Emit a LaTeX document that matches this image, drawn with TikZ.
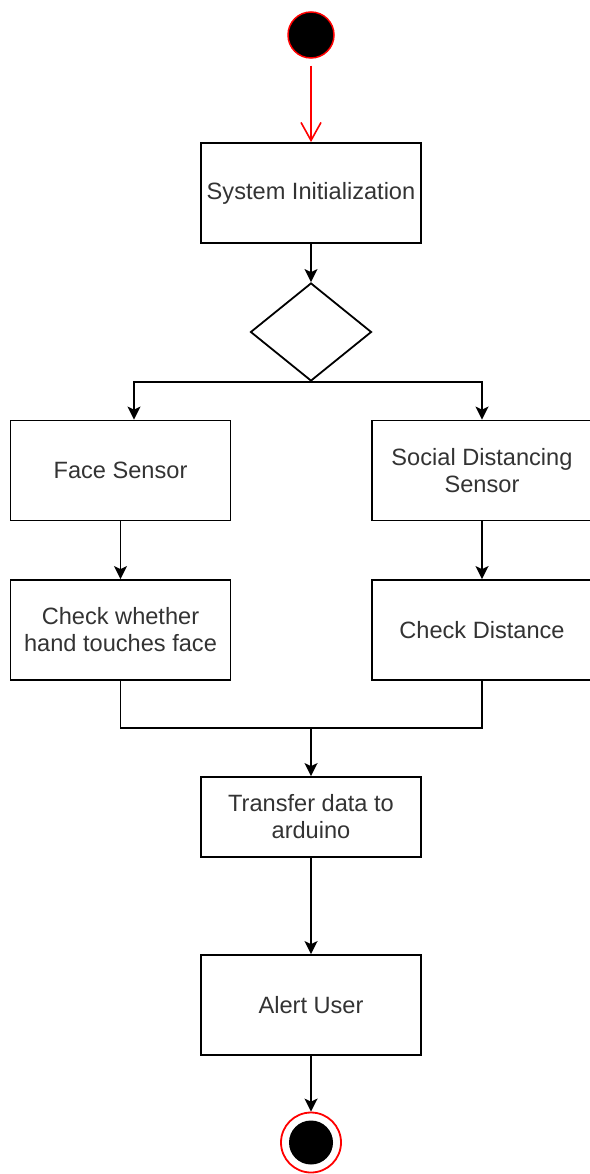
\documentclass[tikz,border=0pt]{standalone}
\usepackage{fontspec}
\setmainfont{Liberation Sans}
\usetikzlibrary{arrows.meta,shapes.geometric}
\begin{document}
\begin{tikzpicture}[x=1pt,y=-1pt,
  box/.style={draw=black, line width=1.8pt, rectangle, minimum width=220pt, minimum height=100pt,
    inner sep=0pt, align=center, font=\fontsize{23.6}{27}\selectfont, text=black!80},
  flow/.style={draw=black, line width=1.8pt, -{Stealth[length=13pt,width=13pt,inset=3pt]}},
  plain/.style={draw=black, line width=1.8pt}]
\useasboundingbox (0,0) rectangle (589,1174);
\node[circle, fill=black, draw=red, line width=1.5pt, minimum size=46pt, inner sep=0pt] (start) at (311,35) {};
\node[box] (init) at (311,193) {System Initialization};
\node[diamond, draw=black, line width=1.8pt, minimum width=121pt, minimum height=98pt, inner sep=0pt] (dec) at (311,332) {};
\node[box] (face) at (120.5,470.5) {Face Sensor};
\node[box] (social) at (482,470.5) {Social Distancing\\Sensor};
\node[box] (hand) at (120.5,630) {Check whether\\hand touches face};
\node[box] (dist) at (482,630) {Check Distance};
\node[box, minimum height=80pt] (transfer) at (311,817) {Transfer data to\\arduino};
\node[box] (alert) at (311,1005) {Alert User};
\node[circle, draw=red, line width=1.8pt, minimum size=60pt, inner sep=0pt] (end) at (311,1142.5) {};
\node[circle, fill=black, minimum size=44pt, inner sep=0pt] (endin) at (end) {};
\coordinate (join) at (311,728);

\draw[red, line width=1.6pt, shorten <=7pt, -{Straight Barb[length=18pt,width=20pt]}] (start) -- (init);
\draw[flow] (init) -- (dec);
\draw[flow] (dec.south) -| ([xshift=13.5pt]face.north);
\draw[flow] (dec.south) -| (social.north);
\draw[flow] (face) -- (hand);
\draw[flow] (social) -- (dist);
\draw[plain] (hand.south) |- (join);
\draw[plain] (dist.south) |- (join);
\draw[flow] (join) -- (transfer);
\draw[flow] (transfer) -- (alert);
\draw[flow] (alert) -- (end);
\end{tikzpicture}
\end{document}
